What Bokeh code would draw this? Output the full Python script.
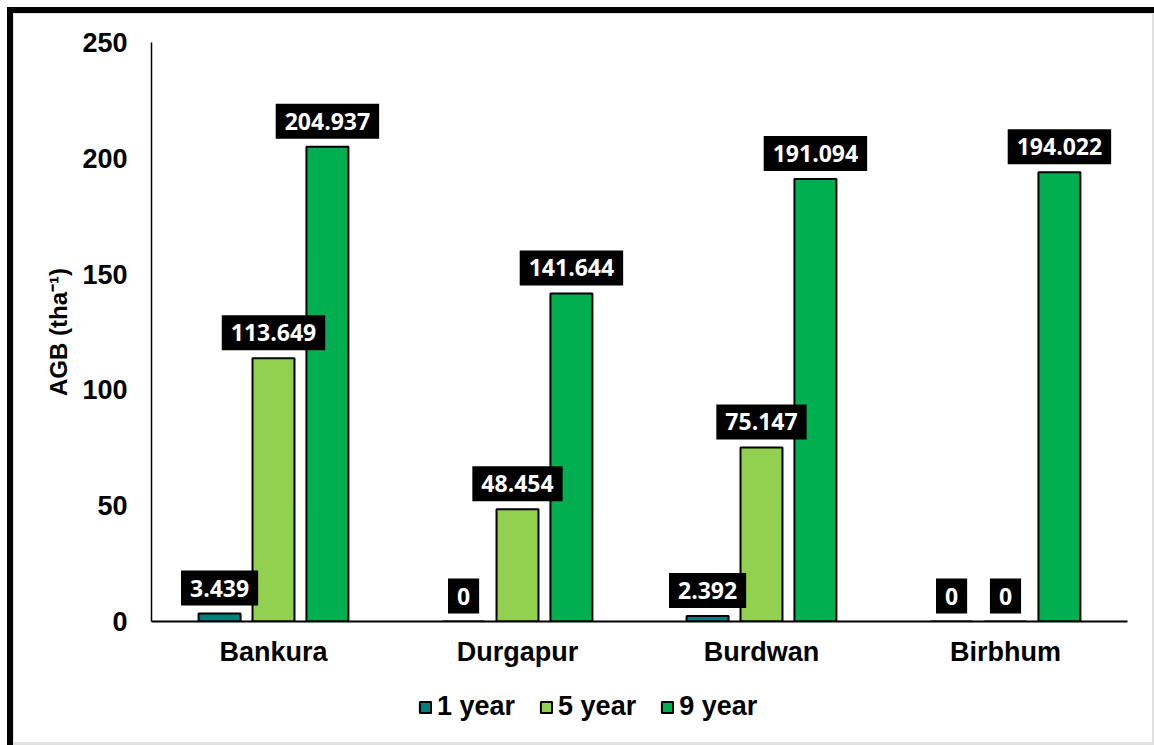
from bokeh.plotting import figure
from bokeh.models import Range1d, FixedTicker, Label, Legend, LegendItem
from bokeh.layouts import column
from bokeh.embed import file_html
from bokeh.resources import INLINE

sites = ["Bankura", "Durgapur", "Burdwan", "Birbhum"]
series_names = ["1 year", "5 year", "9 year"]
agb_1_year = [3.439, 0, 2.392, 0]
agb_5_year = [113.649, 48.454, 75.147, 0]
agb_9_year = [204.937, 141.644, 191.094, 194.022]
y_ticks = [0, 50, 100, 150, 200, 250]

series_values = [agb_1_year, agb_5_year, agb_9_year]
colors = ["#00807F", "#92D050", "#00B050"]
offsets = [-0.221, 0.0, 0.221]
centers = [i + 0.5 for i in range(len(sites))]

AX_FONT = "Liberation Sans"
AX_SIZE = "27px"

p = figure(width=1154, height=680, output_backend="svg", toolbar_location=None,
           x_range=Range1d(0, len(sites)), y_range=Range1d(0, y_ticks[-1]),
           min_border_left=151, min_border_right=27, min_border_top=42,
           min_border_bottom=59)
p.border_fill_alpha = 0
p.background_fill_alpha = 0
p.outline_line_color = None
p.xgrid.visible = False
p.ygrid.visible = False

for name, vals, col, off in zip(series_names, series_values, colors, offsets):
    xs = [c + off for c in centers]
    p.vbar(x=xs, top=vals, width=0.172, bottom=0, fill_color=col,
           line_color="black", line_width=2)
    for x, v in zip(xs, vals):
        lab = Label(x=x, y=v, text=f"{v:g}", text_align="center",
                    text_baseline="bottom", y_offset=15,
                    text_color="white", text_font="Open Sans",
                    text_font_style="bold", text_font_size="23px",
                    background_fill_color="black",
                    border_line_color="black", border_line_width=14,
                    border_line_join="miter",
                    padding=dict(left=2, right=2, top=2, bottom=2))
        p.add_layout(lab)

# y axis
p.yaxis.ticker = FixedTicker(ticks=y_ticks)
p.yaxis.minor_tick_line_color = None
p.yaxis.major_tick_line_color = None
p.yaxis.major_tick_out = 0
p.yaxis.major_tick_in = 0
p.yaxis.axis_line_color = "black"
p.yaxis.axis_line_width = 1.5
p.yaxis.major_label_standoff = 24
p.yaxis.major_label_text_font = AX_FONT
p.yaxis.major_label_text_font_style = "bold"
p.yaxis.major_label_text_font_size = AX_SIZE
p.yaxis.major_label_text_color = "black"
p.yaxis.axis_label = "AGB (tha⁻¹)"
p.yaxis.axis_label_text_font = AX_FONT
p.yaxis.axis_label_text_font_style = "bold"
p.yaxis.axis_label_text_font_size = "24px"
p.yaxis.axis_label_text_color = "black"
p.yaxis.axis_label_standoff = 7

# x axis
p.xaxis.ticker = FixedTicker(ticks=centers)
p.xaxis.major_label_overrides = {c: s for c, s in zip(centers, sites)}
p.xaxis.minor_tick_line_color = None
p.xaxis.major_tick_line_color = None
p.xaxis.major_tick_out = 0
p.xaxis.major_tick_in = 0
p.xaxis.axis_line_color = "black"
p.xaxis.axis_line_width = 2
p.xaxis.major_label_standoff = 15
p.xaxis.major_label_text_font = AX_FONT
p.xaxis.major_label_text_font_style = "bold"
p.xaxis.major_label_text_font_size = AX_SIZE
p.xaxis.major_label_text_color = "black"

# legend strip below the chart (its frame is aligned with the chart's frame)
lg = figure(width=1154, height=65, output_backend="svg", toolbar_location=None,
            x_range=Range1d(0, 1), y_range=Range1d(0, 1),
            x_axis_type=None, y_axis_type=None, min_border=0)
lg.border_fill_alpha = 0
lg.background_fill_alpha = 0
lg.outline_line_color = None
lg.xgrid.visible = False
lg.ygrid.visible = False
swatches = []
for vals, col, off in zip(series_values, colors, offsets):
    r = lg.vbar(x=[c + off for c in centers], top=vals, width=0.172,
                fill_color=col, line_color="black", line_width=2)
    r.visible = False
    swatches.append(r)
legend = Legend(items=[LegendItem(label=n, renderers=[r]) for n, r in zip(series_names, swatches)],
                orientation="horizontal", location=(267, 23),
                label_text_font=AX_FONT, label_text_font_style="bold",
                label_text_font_size=AX_SIZE, label_text_color="black",
                glyph_width=14, glyph_height=14, label_standoff=5, spacing=24,
                padding=0, margin=0, border_line_color=None,
                background_fill_alpha=0, inactive_fill_alpha=0)
lg.add_layout(legend)

page = column(p, lg, spacing=0)
page.styles = {"box-shadow": "inset 7px 7px 0 0 #ffffff, inset 13px 13px 0 0 #000000, "
                             "inset 14px 14px 0 0 #e4e4e4, inset -2px -3px 0 0 #e0e0e0",
               "background-color": "white"}

open("out.html", "w").write(file_html(page, INLINE))
